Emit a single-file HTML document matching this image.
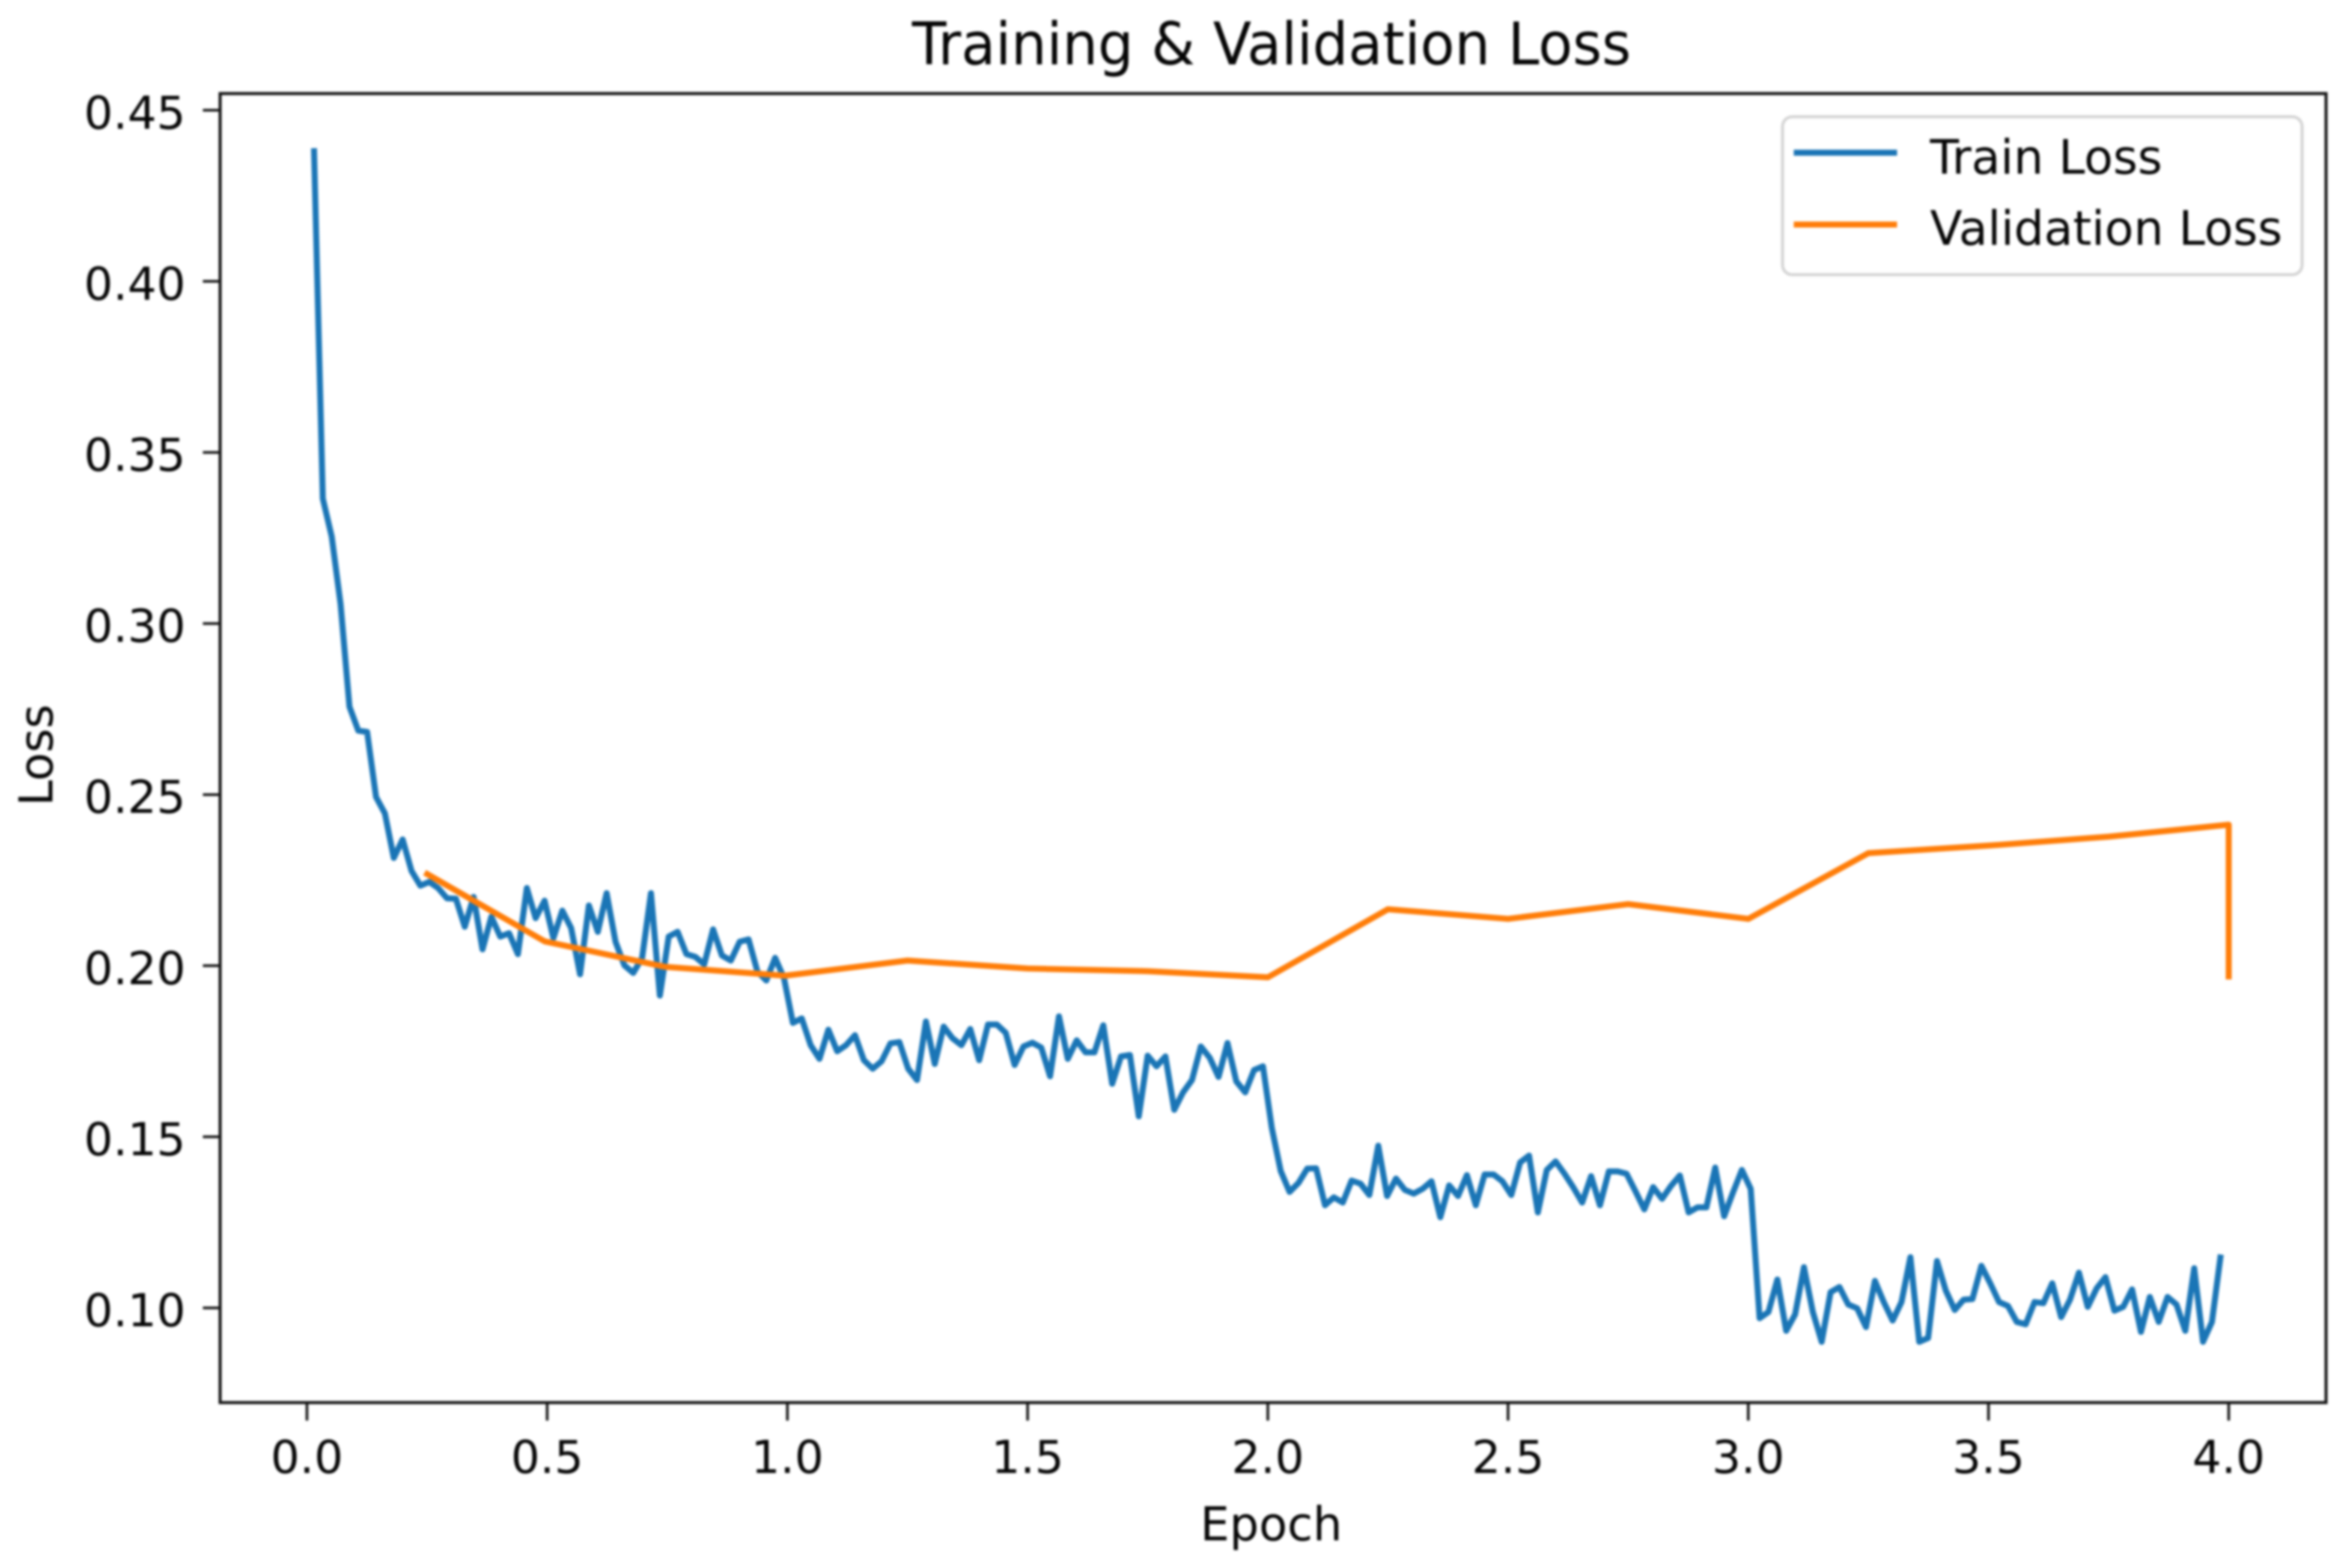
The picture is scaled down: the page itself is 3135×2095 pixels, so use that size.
<!DOCTYPE html>
<html lang="en">
<head>
<meta charset="utf-8">
<title>Training &amp; Validation Loss</title>
<style>
  html, body { margin: 0; padding: 0; background: #fff; }
  #chart { display: block; width: 3135px; height: 2095px; filter: blur(1.5px); }
  text { font-family: "DejaVu Sans", "Liberation Sans", sans-serif; fill: #050505; }
</style>
</head>
<body>
<svg id="chart" xmlns="http://www.w3.org/2000/svg" width="3135" height="2095" viewBox="0 0 3135 2095">
  <rect x="0" y="0" width="3135" height="2095" fill="#ffffff"/>
  <text transform="translate(1698.5 86) scale(1 1.05)" x="0" y="0" font-size="75" text-anchor="middle">Training &amp; Validation Loss</text>
  <g id="series"></g>
  <g id="axes"></g>
  <rect x="294" y="125" width="2813" height="1749" fill="none" stroke="#111111" stroke-width="4"/>
  <text x="1698" y="2058" font-size="62" text-anchor="middle">Epoch</text>
  <text transform="translate(70 1009) rotate(-90)" x="0" y="0" font-size="62" text-anchor="middle">Loss</text>
  <g>
    <rect x="2381" y="156" width="694" height="211" rx="13" ry="13" fill="#ffffff" stroke="#d4d4d4" stroke-width="4"/>
    <line x1="2396" y1="204" x2="2534" y2="204" stroke="#1a75b6" stroke-width="8"/>
    <text x="2578" y="232" font-size="63.2">Train Loss</text>
    <line x1="2396" y1="300" x2="2534" y2="300" stroke="#ff7d08" stroke-width="8"/>
    <text x="2578" y="327" font-size="63.2">Validation Loss</text>
  </g>
</svg>
<script>
const xTickValues = [0, 0.5, 1, 1.5, 2, 2.5, 3, 3.5, 4];
const xTickLabels = ["0.0", "0.5", "1.0", "1.5", "2.0", "2.5", "3.0", "3.5", "4.0"];
const yTickValues = [0.10, 0.15, 0.20, 0.25, 0.30, 0.35, 0.40, 0.45];
const yTickLabels = ["0.10", "0.15", "0.20", "0.25", "0.30", "0.35", "0.40", "0.45"];
const trainFirstEpoch = 0.0146;
const trainEpochStep = 0.01846;
const trainLoss = [
  0.4389, 0.3365, 0.3254, 0.3057, 0.2757, 0.2687, 0.2683, 0.2493, 0.2445, 0.2315,
  0.2369, 0.2277, 0.2234, 0.2245, 0.2227, 0.2197, 0.2196, 0.2114, 0.2201, 0.2048,
  0.2143, 0.2085, 0.2095, 0.2034, 0.2227, 0.2139, 0.2190, 0.2081, 0.2161, 0.2110,
  0.1975, 0.2176, 0.2099, 0.2212, 0.2070, 0.2001, 0.1979, 0.2023, 0.2212, 0.1913,
  0.2085, 0.2099, 0.2034, 0.2026, 0.2004, 0.2106, 0.2030, 0.2015, 0.2070, 0.2077,
  0.1983, 0.1957, 0.2023, 0.1964, 0.1833, 0.1846, 0.1768, 0.1728, 0.1813, 0.1750,
  0.1768, 0.1797, 0.1724, 0.1699, 0.1721, 0.1773, 0.1777, 0.1699, 0.1666, 0.1837,
  0.1713, 0.1822, 0.1788, 0.1768, 0.1815, 0.1724, 0.1828, 0.1828, 0.1804, 0.1710,
  0.1764, 0.1775, 0.1761, 0.1677, 0.1852, 0.1728, 0.1782, 0.1747, 0.1747, 0.1826,
  0.1655, 0.1735, 0.1739, 0.1560, 0.1737, 0.1706, 0.1735, 0.1579, 0.1630, 0.1666,
  0.1764, 0.1731, 0.1675, 0.1774, 0.1662, 0.1630, 0.1695, 0.1706, 0.1526, 0.1400,
  0.1339, 0.1365, 0.1407, 0.1408, 0.1300, 0.1323, 0.1308, 0.1372, 0.1363, 0.1330,
  0.1474, 0.1327, 0.1378, 0.1345, 0.1334, 0.1348, 0.1370, 0.1265, 0.1358, 0.1327,
  0.1388, 0.1300, 0.1390, 0.1390, 0.1370, 0.1330, 0.1425, 0.1445, 0.1279, 0.1403,
  0.1428, 0.1392, 0.1352, 0.1308, 0.1385, 0.1300, 0.1399, 0.1399, 0.1392, 0.1341,
  0.1288, 0.1353, 0.1319, 0.1356, 0.1387, 0.1279, 0.1294, 0.1294, 0.1410, 0.1268,
  0.1337, 0.1403, 0.1348, 0.0970, 0.0988, 0.1083, 0.0933, 0.0981, 0.1119, 0.0988,
  0.0901, 0.1046, 0.1061, 0.1010, 0.0999, 0.0944, 0.1079, 0.1017, 0.0963, 0.1017,
  0.1148, 0.0901, 0.0912, 0.1137, 0.1050, 0.0994, 0.1024, 0.1026, 0.1123, 0.1072,
  0.1017, 0.1006, 0.0959, 0.0952, 0.1017, 0.1014, 0.1072, 0.0973, 0.1024, 0.1103,
  0.1003, 0.1057, 0.1090, 0.0992, 0.1003, 0.1054, 0.0930, 0.1032, 0.0959, 0.1032,
  0.1010, 0.0933, 0.1116, 0.0901, 0.0959, 0.1156
];
const valEpochs = [0.245, 0.495, 0.745, 0.995, 1.25, 1.5, 1.75, 2, 2.25, 2.5, 2.75, 3, 3.25, 3.5, 3.75, 4, 4];
const valLoss = [0.2272, 0.2071, 0.1997, 0.1971, 0.2015, 0.1992, 0.1984, 0.1966, 0.2165, 0.2137, 0.2180, 0.2137, 0.2329, 0.2351, 0.2377, 0.2412, 0.1960];

function xScale(epoch) { return 410 + epoch * 641.75; }
function yScale(loss) { return 1747.5 - (loss - 0.10) / 0.05 * 228.6; }

const NS = 'http://www.w3.org/2000/svg';
const axesGroup = document.getElementById('axes');
const seriesGroup = document.getElementById('series');

xTickValues.forEach(function (value, i) {
  const x = xScale(value);
  const tick = document.createElementNS(NS, 'line');
  tick.setAttribute('x1', x);
  tick.setAttribute('x2', x);
  tick.setAttribute('y1', 1874);
  tick.setAttribute('y2', 1898);
  tick.setAttribute('stroke', '#111111');
  tick.setAttribute('stroke-width', '3.5');
  
  
  axesGroup.appendChild(tick);
  const label = document.createElementNS(NS, 'text');
  label.setAttribute('x', x);
  label.setAttribute('y', 1968);
  label.setAttribute('font-size', '61');
  label.setAttribute('text-anchor', 'middle');
  
  
  label.textContent = xTickLabels[i];
  axesGroup.appendChild(label);
});

yTickValues.forEach(function (value, i) {
  const y = yScale(value);
  const tick = document.createElementNS(NS, 'line');
  tick.setAttribute('x1', 271);
  tick.setAttribute('x2', 294);
  tick.setAttribute('y1', y);
  tick.setAttribute('y2', y);
  tick.setAttribute('stroke', '#111111');
  tick.setAttribute('stroke-width', '3.5');
  
  
  axesGroup.appendChild(tick);
  const label = document.createElementNS(NS, 'text');
  label.setAttribute('x', 248);
  label.setAttribute('y', y + 24.5);
  label.setAttribute('font-size', '61');
  label.setAttribute('text-anchor', 'end');
  
  
  label.textContent = yTickLabels[i];
  axesGroup.appendChild(label);
});

const trainPoints = trainLoss.map(function (loss, i) {
  const epoch = trainFirstEpoch + i * trainEpochStep;
  return xScale(epoch).toFixed(1) + ',' + yScale(loss).toFixed(1);
}).join(' ');
const trainLine = document.createElementNS(NS, 'polyline');
trainLine.setAttribute('points', trainPoints);
trainLine.setAttribute('fill', 'none');
trainLine.setAttribute('stroke', '#1a75b6');
trainLine.setAttribute('stroke-width', '8');
trainLine.setAttribute('stroke-linejoin', 'round');


seriesGroup.appendChild(trainLine);

const valPoints = valLoss.map(function (loss, i) {
  return xScale(valEpochs[i]).toFixed(1) + ',' + yScale(loss).toFixed(1);
}).join(' ');
const valLine = document.createElementNS(NS, 'polyline');
valLine.setAttribute('points', valPoints);
valLine.setAttribute('fill', 'none');
valLine.setAttribute('stroke', '#ff7d08');
valLine.setAttribute('stroke-width', '8');
valLine.setAttribute('stroke-linejoin', 'round');


seriesGroup.appendChild(valLine);
</script>
</body>
</html>
